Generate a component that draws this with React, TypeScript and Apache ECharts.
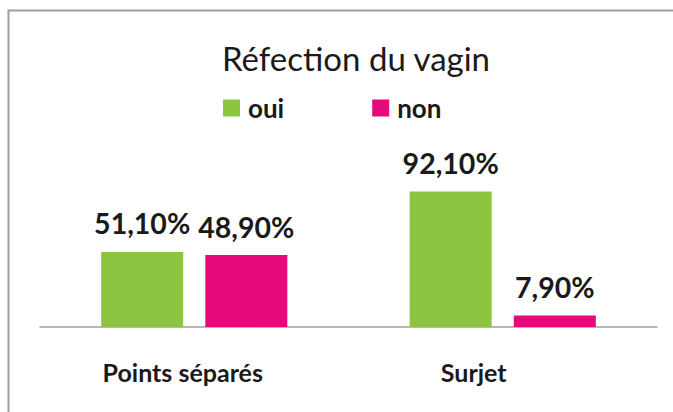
import React, { useEffect, useRef } from "react";
import * as echarts from "echarts";

const categories = ["Points séparés", "Surjet"];
const seriesNames = ["oui", "non"];
const ouiValues = [51.1, 92.1];
const nonValues = [48.9, 7.9];
const colors = ["#8cc540", "#e6097c"];

const fmt = (v: number) => v.toFixed(2).replace(".", ",") + "%";

export default function App() {
  const ref = useRef<HTMLDivElement>(null);
  useEffect(() => {
    if (!ref.current) return;
    const chart = echarts.init(ref.current, undefined, { renderer: "svg" });
    const labelCfg = {
      show: true,
      position: "top" as const,
      distance: 14,
      fontFamily: "Lato",
      fontWeight: "bold" as const,
      fontSize: 28.5,
      color: "#1a1a1a",
      formatter: (p: any) => fmt(p.value),
    };
    chart.setOption({
      animation: false,
      backgroundColor: "#ffffff",
      title: {
        text: "Réfection du vagin",
        left: 351,
        top: 36,
        textAlign: "center",
        textStyle: { fontFamily: "Lato", fontWeight: "normal", fontSize: 33, color: "#1a1a1a" },
      },
      legend: {
        data: seriesNames,
        left: 218,
        top: 90,
        itemWidth: 17,
        itemHeight: 17,
        itemGap: 88,
        icon: "rect",
        textStyle: {
          fontFamily: "Lato",
          fontWeight: "bold",
          fontSize: 26,
          color: "#1a1a1a",
          padding: [0, 0, 0, 3],
        },
      },
      graphic: [
        {
          type: "rect",
          shape: { x: 8.5, y: 10.5, width: 720, height: 500 },
          style: { fill: "none", stroke: "#a0a0a0", lineWidth: 2 },
          silent: true,
        },
      ],
      grid: { left: 40, right: 16, top: 180, bottom: 85 },
      xAxis: {
        type: "category",
        data: categories,
        axisLine: { lineStyle: { color: "#a0a0a0", width: 1.5 } },
        axisTick: { show: false },
        axisLabel: {
          margin: 32,
          formatter: (v: string) => (v === categories[0] ? "{a|" + v + "}" : "{b|" + v + "}"),
          rich: {
            a: { fontFamily: "Lato", fontWeight: "bold", fontSize: 25, color: "#1a1a1a", padding: [0, 23, 0, 0] },
            b: { fontFamily: "Lato", fontWeight: "bold", fontSize: 25, color: "#1a1a1a", padding: [0, 58, 0, 0] },
          },
        },
      },
      yAxis: { type: "value", min: 0, max: 100, show: false, splitLine: { show: false } },
      series: [
        {
          name: seriesNames[0],
          type: "bar",
          data: ouiValues,
          barWidth: 82,
          barGap: "27%",
          itemStyle: { color: colors[0] },
          label: labelCfg,
        },
        {
          name: seriesNames[1],
          type: "bar",
          data: nonValues,
          barWidth: 82,
          barGap: "27%",
          itemStyle: { color: colors[1] },
          label: labelCfg,
        },
      ],
    });
    return () => chart.dispose();
  }, []);
  return (
    <div
      ref={ref}
      style={{ position: "fixed", left: 0, top: 0, width: 673, height: 412 }}
    />
  );
}
